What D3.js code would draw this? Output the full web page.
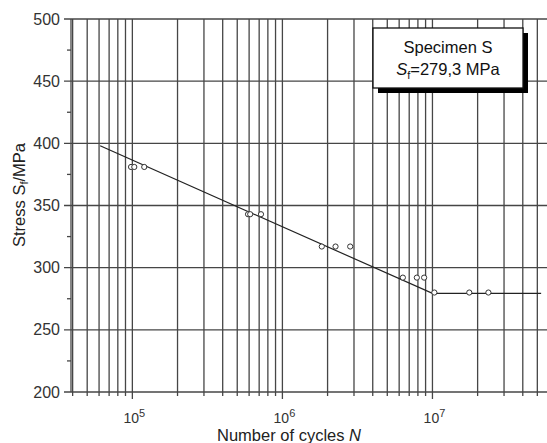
<!DOCTYPE html>
<html>
<head>
<meta charset="utf-8">
<script src="https://cdn.jsdelivr.net/npm/d3@7"></script>
<style>
  body { margin: 0; background: #fff; }
  text { font-family: "Liberation Sans", Arial, sans-serif; fill: #333; }
</style>
</head>
<body>
<div id="chart"></div>
<script>
// Data
const cycles = [0.98e5, 1.03e5, 1.2e5, 5.9e5, 6.1e5, 7.2e5, 1.83e6, 2.26e6, 2.83e6, 6.35e6, 7.87e6, 8.8e6];
const stress = [381, 381, 381, 343, 343, 343, 317, 317, 317, 292, 292, 292];
const runoutCycles = [1.03e7, 1.76e7, 2.36e7];
const runoutStress = [280, 280, 280];
const fitCycles = [6.1e4, 1e7, 5.3e7];
const fitStress = [398, 279.3, 279.3];
const yTicks = [200, 250, 300, 350, 400, 450, 500];
const yMinor = [225, 275, 325, 375, 425, 475];
const xMajor = [1e5, 1e6, 1e7];

const width = 547, height = 443;
const margin = {top: 19, left: 71, right: 0, bottom: 50};
const plotW = width - margin.left - margin.right;
const plotH = height - margin.top - margin.bottom - 1;

const svg = d3.select("#chart").append("svg")
  .attr("width", width)
  .attr("height", height);

const g = svg.append("g")
  .attr("transform", "translate(" + [margin.left, margin.top] + ")");

// Scales
const xScale = d3.scaleLog()
  .domain([3.9e4, 5.8e7])
  .range([0, plotW]);

const yScale = d3.scaleLinear()
  .domain([200, 500])
  .range([plotH, 0]);

// every tick 1..9 per decade inside the domain
const xAll = [];
for (let e = 4; e <= 7; e++) {
  for (let m = 1; m <= 9; m++) {
    const v = m * Math.pow(10, e);
    if (v >= xScale.domain()[0] && v <= xScale.domain()[1]) xAll.push(v);
  }
}

const gridColor = "#464646";

// vertical grid lines + ticks below axis
g.append("g")
  .selectAll("line")
  .data(xAll)
  .enter()
  .append("line")
  .attr("x1", d => xScale(d))
  .attr("x2", d => xScale(d))
  .attr("y1", 0)
  .attr("y2", d => plotH + (xMajor.includes(d) ? 7 : 4))
  .attr("stroke", gridColor)
  .attr("stroke-width", 1.3);

// horizontal grid lines extending left as ticks
g.append("g")
  .selectAll("line")
  .data(yTicks)
  .enter()
  .append("line")
  .attr("x1", -7)
  .attr("x2", plotW)
  .attr("y1", d => yScale(d))
  .attr("y2", d => yScale(d))
  .attr("stroke", gridColor)
  .attr("stroke-width", 1.3);

g.append("g")
  .selectAll("line")
  .data(yMinor)
  .enter()
  .append("line")
  .attr("x1", -4)
  .attr("x2", 0)
  .attr("y1", d => yScale(d))
  .attr("y2", d => yScale(d))
  .attr("stroke", gridColor)
  .attr("stroke-width", 1.3);

// y axis line
g.append("line")
  .attr("x1", 0).attr("x2", 0)
  .attr("y1", 0).attr("y2", plotH)
  .attr("stroke", gridColor)
  .attr("stroke-width", 1.3);

// y tick labels
g.append("g")
  .selectAll("text")
  .data(yTicks)
  .enter()
  .append("text")
  .attr("x", -11)
  .attr("y", d => yScale(d) + 5.5)
  .attr("text-anchor", "end")
  .attr("font-size", 16)
  .text(d => d);

// x tick labels 10^n
const xl = g.append("g")
  .selectAll("text")
  .data(xMajor)
  .enter()
  .append("text")
  .attr("x", d => xScale(d) + 2)
  .attr("y", plotH + 31)
  .attr("text-anchor", "middle")
  .attr("font-size", 14);
xl.append("tspan").text("10");
xl.append("tspan")
  .attr("dy", -6)
  .attr("font-size", 11)
  .text(d => Math.round(Math.log10(d)));

// axis titles
const xt = svg.append("text")
  .attr("x", 289)
  .attr("y", 441)
  .attr("text-anchor", "middle")
  .attr("font-size", 16.5)
  .style("fill", "#222");
xt.append("tspan").text("Number of cycles ");
xt.append("tspan").attr("font-style", "italic").text("N");

const yt = svg.append("text")
  .attr("transform", "translate(25,195) rotate(-90)")
  .attr("text-anchor", "middle")
  .attr("font-size", 16.5)
  .style("fill", "#222");
yt.append("tspan").text("Stress S");
yt.append("tspan").attr("font-size", 11).attr("dy", 3).text("f");
yt.append("tspan").attr("dy", -3).text("/MPa");

// fitted S-N line
const line = d3.line()
  .x(d => xScale(d[0]))
  .y(d => yScale(d[1]));

g.append("path")
  .attr("d", line(fitCycles.map((c, i) => [c, fitStress[i]])))
  .attr("fill", "none")
  .attr("stroke", "#222")
  .attr("stroke-width", 1.2);

// test points
g.append("g")
  .selectAll("circle")
  .data(cycles.map((c, i) => [c, stress[i]]).concat(runoutCycles.map((c, i) => [c, runoutStress[i]])))
  .enter()
  .append("circle")
  .attr("cx", d => xScale(d[0]))
  .attr("cy", d => yScale(d[1]))
  .attr("r", 2.6)
  .attr("fill", "#fff")
  .attr("stroke", "#333")
  .attr("stroke-width", 1);

// legend box with shadow
const box = svg.append("g").attr("transform", "translate(373,28)");
box.append("rect")
  .attr("x", 5).attr("y", 5)
  .attr("width", 150).attr("height", 60)
  .attr("fill", "#000");
box.append("rect")
  .attr("width", 150).attr("height", 60)
  .attr("fill", "#fff")
  .attr("stroke", "#111")
  .attr("stroke-width", 1.3);
box.append("text")
  .attr("x", 75).attr("y", 25)
  .attr("text-anchor", "middle")
  .attr("font-size", 16.5)
  .style("fill", "#111")
  .text("Specimen S");
const lt = box.append("text")
  .attr("x", 75).attr("y", 47)
  .attr("text-anchor", "middle")
  .attr("font-size", 16.5)
  .style("fill", "#111");
lt.append("tspan").attr("font-style", "italic").text("S");
lt.append("tspan").attr("font-size", 11).attr("dy", 4).text("f");
lt.append("tspan").attr("dy", -4).text("=279,3 MPa");
</script>
</body>
</html>
